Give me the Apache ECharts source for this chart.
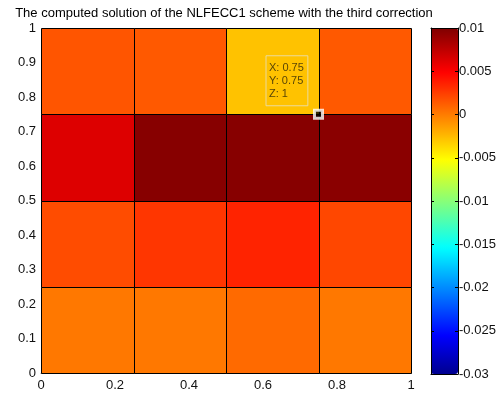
<!DOCTYPE html>
<html><head><meta charset="utf-8">
<script src="https://cdn.jsdelivr.net/npm/echarts@6/dist/echarts.min.js"></script>
<style>html,body{margin:0;padding:0;background:#fff}#c{width:503px;height:397px}</style>
</head><body><div id="c"></div>
<script>
// ---- data ----
const titleText = 'The computed solution of the NLFECC1 scheme with the third correction';
const xCenters = [0.125, 0.375, 0.625, 0.875];
const yCenters = [0.125, 0.375, 0.625, 0.875];
// colour values (Z colour data), one row per y band, bottom to top
const zRow1 = [0.00014, 0.00014, 0.0007, 0.00014];
const zRow2 = [0.0019, 0.00276, 0.00352, 0.0021];
const zRow3 = [0.00626, 0.0097, 0.0097, 0.00956];
const zRow4 = [0.00154, 0.0014, -0.0028, 0.0014];
const zRows = [zRow1, zRow2, zRow3, zRow4];
const xTicks = [0, 0.2, 0.4, 0.6, 0.8, 1];
const yTicks = [0, 0.1, 0.2, 0.3, 0.4, 0.5, 0.6, 0.7, 0.8, 0.9, 1];
const cbTicks = [-0.03, -0.025, -0.02, -0.015, -0.01, -0.005, 0, 0.005, 0.01];
const tipX = 0.75, tipY = 0.75, tipZ = 1;

// ---- MATLAB jet(64) colormap ----
function jet64() {
  const m = 64, n = 16;
  const u = [];
  for (let i = 1; i <= n; i++) u.push(i / n);
  for (let i = 1; i < n; i++) u.push(1);
  for (let i = n; i >= 1; i--) u.push(i / n);
  const R = new Array(m).fill(0), G = new Array(m).fill(0), B = new Array(m).fill(0);
  const gStart = Math.ceil(n / 2) - (m % 4 === 1 ? 1 : 0);
  for (let j = 0; j < u.length; j++) {
    const g = gStart + j + 1, r = g + n, b = g - n;
    if (g >= 1 && g <= m) G[g - 1] = u[j];
    if (r >= 1 && r <= m) R[r - 1] = u[j];
    if (b >= 1 && b <= m) B[b - 1] = u[j];
  }
  const h = v => Math.round(v * 255).toString(16).padStart(2, '0');
  return R.map((_, i) => '#' + h(R[i]) + h(G[i]) + h(B[i]));
}
const jetColors = jet64();

const cellData = [];
zRows.forEach((row, j) => row.forEach((z, i) => cellData.push([xCenters[i], yCenters[j], z])));
const halfW = (xCenters[1] - xCenters[0]) / 2;
const halfH = (yCenters[1] - yCenters[0]) / 2;

const font = 'Liberation Sans, Arial, Helvetica, sans-serif';
const chart = echarts.init(document.getElementById('c'));
chart.setOption({
  backgroundColor: '#fff',
  animation: false,
  title: {
    text: titleText, left: 219, top: 2, textAlign: 'center',
    textStyle: { fontFamily: font, fontSize: 13, fontWeight: 'normal', color: '#000' }
  },
  grid: [
    { left: 41, top: 28, width: 370, height: 345 },
    { left: 431, top: 28, width: 27, height: 346 }
  ],
  xAxis: [
    { type: 'value', gridIndex: 0, min: 0, max: 1, interval: 0.2,
      axisLine: { show: true, lineStyle: { color: '#888' } }, axisTick: { show: false },
      splitLine: { show: false },
      axisLabel: { margin: 6, color: '#111', fontFamily: font, fontSize: 13 } },
    { type: 'value', gridIndex: 1, position: 'bottom', min: 0, max: 1, z: 10,
      axisLine: { show: true, onZero: false, lineStyle: { color: '#000' } }, axisTick: { show: false },
      axisLabel: { show: false }, splitLine: { show: false } },
    { type: 'value', gridIndex: 1, position: 'top', min: 0, max: 1, z: 10,
      axisLine: { show: true, onZero: false, lineStyle: { color: '#000' } }, axisTick: { show: false },
      axisLabel: { show: false }, splitLine: { show: false } }
  ],
  yAxis: [
    { type: 'value', gridIndex: 0, min: 0, max: 1, interval: 0.1,
      axisLine: { show: false }, axisTick: { show: false }, splitLine: { show: false },
      axisLabel: { margin: 5, color: '#111', fontFamily: font, fontSize: 13 } },
    { type: 'value', gridIndex: 1, position: 'right', min: -0.03, max: 0.01, interval: 0.005, z: 10,
      axisLine: { show: true, onZero: false, lineStyle: { color: '#000' } },
      axisTick: { show: true, inside: true, length: 3, lineStyle: { color: '#000' } },
      splitLine: { show: false },
      axisLabel: { margin: 1, color: '#111', fontFamily: font, fontSize: 13 } },
    { type: 'value', gridIndex: 1, position: 'left', min: -0.03, max: 0.01, interval: 0.005, z: 10,
      axisLine: { show: true, onZero: false, lineStyle: { color: '#000' } },
      axisTick: { show: true, inside: true, length: 3, lineStyle: { color: '#000' } },
      splitLine: { show: false }, axisLabel: { show: false } }
  ],
  visualMap: {
    type: 'continuous', min: -0.03, max: 0.01, dimension: 2, seriesIndex: 0,
    inRange: { color: jetColors }, calculable: false, text: null, hoverLink: false,
    itemWidth: 27, itemHeight: 346, left: 431, top: 28, padding: 0, z: 1
  },
  series: [
    {
      type: 'custom', xAxisIndex: 0, yAxisIndex: 0, data: cellData,
      encode: { x: 0, y: 1 },
      renderItem: function (params, api) {
        const x = api.value(0), y = api.value(1);
        const p0 = api.coord([x - halfW, y + halfH]);
        const p1 = api.coord([x + halfW, y - halfH]);
        const x0 = Math.round(p0[0]) + 0.5, y0 = Math.round(p0[1]) + 0.5;
        const x1 = Math.round(p1[0]) + 0.5, y1 = Math.round(p1[1]) + 0.5;
        return { type: 'rect', shape: { x: x0, y: y0, width: x1 - x0, height: y1 - y0 },
          style: { fill: api.visual('color'), stroke: '#000', lineWidth: 1 } };
      }
    },
    {
      type: 'scatter', xAxisIndex: 0, yAxisIndex: 0, z: 20,
      data: [[tipX, tipY, tipZ]],
      symbol: 'rect', symbolSize: 8,
      itemStyle: { color: '#000', borderColor: '#fff', borderWidth: 3 },
      label: {
        show: true, position: [-47, -53], align: 'left', verticalAlign: 'top',
        formatter: p => 'X: ' + p.value[0] + '\nY: ' + p.value[1] + '\nZ: ' + p.value[2],
        fontFamily: font, fontSize: 11, lineHeight: 13, color: '#2e2608',
        padding: [6, 4, 5, 3], borderColor: '#e6e0c0', borderWidth: 1
      }
    }
  ]
});
</script></body></html>
